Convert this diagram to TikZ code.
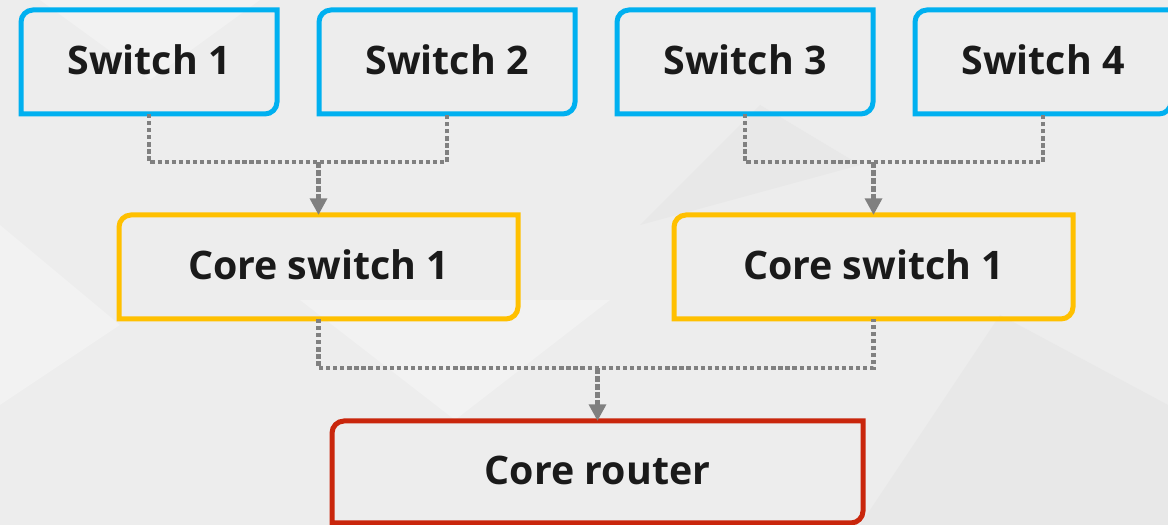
\documentclass[tikz,border=0pt]{standalone}
\usepackage{fontspec}
\setmainfont{Open Sans}
\usetikzlibrary{arrows.meta,calc}
\definecolor{bgc}{HTML}{EDEDED}
\definecolor{bglight}{HTML}{F2F2F2}
\definecolor{bgdark}{HTML}{E8E8E8}
\definecolor{swblue}{HTML}{00B0F0}
\definecolor{coreyel}{HTML}{FFC000}
\definecolor{routred}{HTML}{C9260C}
\definecolor{linegray}{HTML}{808080}
\definecolor{txt}{HTML}{1A1A1A}
\newcommand{\boxoutline}[2]{%
  \draw[line width=3.75pt,#2] (#1.south west) -- ([yshift=-9pt]#1.north west)
    arc[start angle=180,end angle=90,radius=9pt] -- (#1.north east)
    -- ([yshift=9pt]#1.south east) arc[start angle=0,end angle=-90,radius=9pt] -- cycle;}
\begin{document}
\begin{tikzpicture}[x=0.75pt,y=0.75pt,
  boxtext/.style={inner sep=0pt,outer sep=0pt,font=\bfseries\fontsize{29.5}{34}\selectfont,text=txt,
    text depth=3pt},
  swbox/.style={boxtext,minimum width=192pt,minimum height=78pt},
  corebox/.style={boxtext,minimum width=299.25pt,minimum height=78pt},
  routbox/.style={boxtext,minimum width=398.25pt,minimum height=76.5pt},
  dotline/.style={draw=linegray,line width=3.4pt,dash pattern=on 3.2pt off 2.1pt},
  arrowline/.style={draw=linegray,line width=3.6pt,dash pattern=on 4.5pt off 1.5pt,
    -{Triangle[width=12.5pt,length=12.5pt]}}]
\useasboundingbox (0,0) rectangle (1168,525);
\clip (0,0) rectangle (1168,525);
% background
\fill[bgc] (0,0) rectangle (1168,525);
\fill[bglight] (40,525) -- (150,445) -- (260,525) -- cycle;
\fill[bglight] (300,225) -- (455,105) -- (610,225) -- cycle;
\fill[bglight] (0,300) -- (120,200) -- (0,120) -- cycle;
\fill[bgdark] (860,0) -- (1168,0) -- (1168,120) -- (1000,210) -- cycle;
\fill[bgdark] (640,300) -- (860,360) -- (760,420) -- cycle;
% nodes
\node[swbox] (s1) at (149,463) {Switch 1};
\node[swbox] (s2) at (447,463) {Switch 2};
\node[swbox] (s3) at (745,463) {Switch 3};
\node[swbox] (s4) at (1043,463) {Switch 4};
\node[corebox] (c1) at (318.5,258) {Core switch 1};
\node[corebox] (c2) at (873.5,258) {Core switch 1};
\node[routbox] (r) at (597.5,53) {Core router};
\boxoutline{s1}{swblue}
\boxoutline{s2}{swblue}
\boxoutline{s3}{swblue}
\boxoutline{s4}{swblue}
\boxoutline{c1}{coreyel}
\boxoutline{c2}{coreyel}
\boxoutline{r}{routred}
% connectors
\coordinate (j1) at (c1.north |- 0,363);
\coordinate (j2) at (c2.north |- 0,363);
\coordinate (j3) at (r.north |- 0,157);
\draw[dotline] (s1.south) -- (s1.south |- j1) -| (s2.south);
\draw[dotline] (s3.south) -- (s3.south |- j2) -| (s4.south);
\draw[dotline] (c1.south) -- (c1.south |- j3) -| (c2.south);
\draw[arrowline] (j1) -- (c1.north);
\draw[arrowline] (j2) -- (c2.north);
\draw[arrowline] (j3) -- (r.north);
\end{tikzpicture}
\end{document}
